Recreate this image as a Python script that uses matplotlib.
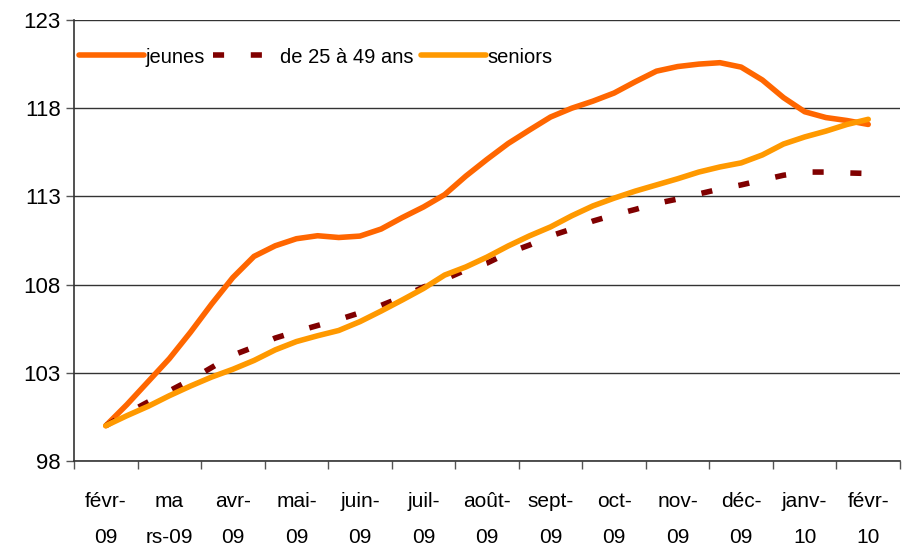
import matplotlib.pyplot as plt
import numpy as np

# month labels (one category per month)
months = ['févr-\n09', 'ma\nrs-09', 'avr-\n09', 'mai-\n09', 'juin-\n09',
          'juil-\n09', 'août-\n09', 'sept-\n09', 'oct-\n09', 'nov-\n09',
          'déc-\n09', 'janv-\n10', 'févr-\n10']

# series, about three readings per month (index 100 = févr-09)
jeunes = [100.0, 101.2, 102.5, 103.8, 105.3, 106.9, 108.4, 109.6, 110.2,
          110.6, 110.77, 110.67, 110.75, 111.15, 111.8, 112.4, 113.1, 114.15,
          115.1, 116.0, 116.76, 117.5, 118.0, 118.4, 118.86, 119.5, 120.1,
          120.36, 120.5, 120.58, 120.33, 119.6, 118.6, 117.8, 117.47, 117.3,
          117.08]
de_25_49 = [100.0, 100.7, 101.35, 101.97, 102.6, 103.3, 104.0, 104.46,
            104.97, 105.34, 105.68, 106.02, 106.4, 106.82, 107.3, 107.86,
            108.3, 108.83, 109.22, 109.8, 110.24, 110.76, 111.15, 111.6,
            111.95, 112.26, 112.6, 112.85, 113.14, 113.42, 113.65, 113.93,
            114.2, 114.38, 114.38, 114.33, 114.3]
seniors = [100.0, 100.57, 101.1, 101.7, 102.25, 102.76, 103.2, 103.7, 104.3,
           104.77, 105.1, 105.4, 105.9, 106.5, 107.13, 107.78, 108.54, 109.0,
           109.56, 110.19, 110.76, 111.27, 111.9, 112.46, 112.9, 113.3,
           113.65, 114.0, 114.38, 114.67, 114.9, 115.35, 115.97, 116.37,
           116.7, 117.08, 117.37]

plt.rcParams['font.family'] = ['Liberation Sans', 'DejaVu Sans']

x = np.arange(len(jeunes)) / 3.0

fig = plt.figure(figsize=(9.03, 5.48), dpi=100)
ax = fig.add_axes([74 / 903, 1 - 461 / 548, 826 / 903, 441 / 548])

ax.plot(x, jeunes, color='#FF6600', lw=4, solid_capstyle='round',
        label='jeunes', zorder=3)
ax.plot(x, de_25_49, color='#800000', lw=4, dashes=(2.0, 4.8),
        dash_capstyle='butt', label='de 25 à 49 ans', zorder=3)
ax.plot(x, seniors, color='#FF9900', lw=4, solid_capstyle='round',
        label='seniors', zorder=4)

ax.set_xlim(-0.5, len(months) - 0.5)
ax.set_ylim(98, 123)
ax.set_yticks(np.arange(98, 124, 5))
ax.yaxis.grid(True, color='#333333', lw=1)
ax.set_axisbelow(True)

# tick marks between categories, labels at category centres
ax.set_xticks(np.arange(len(months) + 1) - 0.5)
ax.set_xticklabels([])
ax.set_xticks(np.arange(len(months)), minor=True)
ax.set_xticklabels(months, minor=True, fontsize=15, linespacing=2.15)
ax.tick_params(axis='x', which='minor', length=0, pad=22)
ax.tick_params(axis='both', which='major', direction='out', length=6,
               width=1, color='#555555', labelsize=16)

for s in ['top', 'right']:
    ax.spines[s].set_visible(False)
for s in ['left', 'bottom']:
    ax.spines[s].set_color('#333333')
    ax.spines[s].set_linewidth(1.2)

ax.legend(loc='upper left', bbox_to_anchor=(-0.008, 0.965), ncol=3,
          frameon=False, fontsize=14.5, handlelength=3.2, handletextpad=0.1,
          columnspacing=0.4, borderaxespad=0.2)

fig.savefig('out.png', dpi=100)
